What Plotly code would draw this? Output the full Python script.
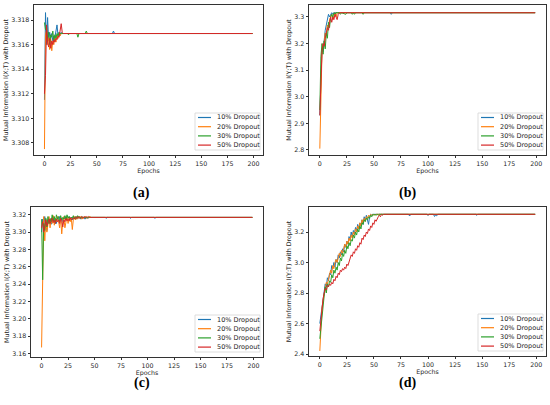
import plotly.graph_objects as go

series_names = ['10% Dropout', '20% Dropout', '30% Dropout', '50% Dropout']
series_colors = ['#1f77b4', '#ff7f0e', '#2ca02c', '#d62728']

# ---- panel (a): I(X;T) ----
a_x_10 = list(range(0, 21)) + [65, 66, 67, 199]
a_y_10 = [3.3115, 3.3186, 3.3160, 3.3182, 3.3163, 3.3170, 3.3165, 3.3169, 3.3163, 3.3167,
          3.3166, 3.3170, 3.3176, 3.3167, 3.3170, 3.3168, 3.3170, 3.3169, 3.3169, 3.3169,
          3.3169, 3.3169, 3.3171, 3.3169, 3.3169]
a_x_20 = list(range(0, 19)) + [199]
a_y_20 = [3.3075, 3.3168, 3.3172, 3.3160, 3.3166, 3.3156, 3.3165, 3.3155, 3.3163, 3.3160,
          3.3166, 3.3162, 3.3168, 3.3165, 3.3169, 3.3167, 3.3169, 3.3169, 3.3169, 3.3169]
a_x_30 = list(range(0, 17)) + [22, 23, 24, 31, 32, 33, 39, 40, 41, 199]
a_y_30 = [3.3178, 3.3172, 3.3175, 3.3165, 3.3170, 3.3160, 3.3168, 3.3166, 3.3171, 3.3163,
          3.3168, 3.3165, 3.3169, 3.3167, 3.3170, 3.3169, 3.3169, 3.3169, 3.3168, 3.3169,
          3.3169, 3.3166, 3.3169, 3.3169, 3.3171, 3.3169, 3.3169]
a_x_50 = list(range(0, 19)) + [199]
a_y_50 = [3.3120, 3.3135, 3.3176, 3.3162, 3.3158, 3.3165, 3.3157, 3.3163, 3.3160, 3.3164,
          3.3162, 3.3165, 3.3164, 3.3167, 3.3166, 3.3172, 3.3177, 3.3170, 3.3169, 3.3169]

# ---- panel (b): I(Y;T) ----
b_x_10 = list(range(0, 14)) + [65, 66, 67, 199]
b_y_10 = [2.93, 3.10, 3.18, 3.17, 3.22, 3.25, 3.27, 3.30, 3.31, 3.30, 3.31, 3.316, 3.31, 3.316,
          3.316, 3.310, 3.316, 3.316]
b_x_20 = list(range(0, 18)) + [199]
b_y_20 = [2.805, 3.05, 3.17, 3.19, 3.20, 3.24, 3.23, 3.27, 3.26, 3.29, 3.30, 3.31, 3.29, 3.31,
          3.316, 3.30, 3.316, 3.316, 3.316]
b_x_30 = list(range(0, 21)) + [24, 25, 29, 30, 31, 32, 33, 39, 40, 41, 199]
b_y_30 = [2.95, 3.15, 3.20, 3.16, 3.21, 3.18, 3.24, 3.22, 3.28, 3.26, 3.30, 3.31, 3.30, 3.316,
          3.31, 3.316, 3.316, 3.316, 3.316, 3.31, 3.316, 3.31, 3.316, 3.316, 3.31, 3.316, 3.31,
          3.316, 3.316, 3.31, 3.316, 3.316]
b_x_50 = list(range(0, 19)) + [199]
b_y_50 = [2.93, 3.08, 3.17, 3.20, 3.19, 3.22, 3.25, 3.26, 3.25, 3.28, 3.30, 3.28, 3.30, 3.29,
          3.31, 3.30, 3.29, 3.31, 3.316, 3.316]

# ---- panel (c): I(X;T) ----
c_x_10 = list(range(0, 46)) + [60, 61, 62, 83, 84, 85, 106, 107, 108, 199]
c_y_10 = [3.300, 3.315, 3.305, 3.318, 3.308, 3.302, 3.312, 3.310, 3.316, 3.309,
          3.314, 3.318, 3.312, 3.316, 3.310, 3.317, 3.313, 3.318, 3.314, 3.316,
          3.312, 3.317, 3.315, 3.318, 3.314, 3.316, 3.318, 3.315, 3.317, 3.314,
          3.318, 3.316, 3.317, 3.315, 3.318, 3.316, 3.317, 3.315, 3.317, 3.316,
          3.317, 3.315, 3.317, 3.316, 3.317, 3.317,
          3.317, 3.316, 3.317, 3.317, 3.316, 3.317, 3.317, 3.316, 3.317, 3.317]
c_x_20 = list(range(0, 48)) + [199]
c_y_20 = [3.167, 3.245, 3.318, 3.290, 3.315, 3.300, 3.312, 3.318, 3.305, 3.316,
          3.310, 3.319, 3.308, 3.316, 3.312, 3.318, 3.313, 3.305, 3.316, 3.298,
          3.312, 3.318, 3.305, 3.315, 3.318, 3.310, 3.317, 3.312, 3.316, 3.303,
          3.315, 3.318, 3.314, 3.317, 3.315, 3.318, 3.316, 3.318, 3.315, 3.317,
          3.316, 3.318, 3.316, 3.317, 3.316, 3.318, 3.317, 3.317, 3.317]
c_x_30 = list(range(0, 40)) + [199]
c_y_30 = [3.315, 3.245, 3.310, 3.302, 3.316, 3.306, 3.318, 3.310, 3.315, 3.312,
          3.320, 3.313, 3.318, 3.310, 3.320, 3.315, 3.318, 3.312, 3.319, 3.314,
          3.317, 3.315, 3.319, 3.314, 3.320, 3.316, 3.318, 3.315, 3.317, 3.316,
          3.319, 3.315, 3.318, 3.316, 3.319, 3.317, 3.318, 3.316, 3.318, 3.317, 3.317]
c_x_50 = list(range(0, 47)) + [199]
c_y_50 = [3.305, 3.312, 3.300, 3.310, 3.314, 3.307, 3.312, 3.315, 3.310, 3.313,
          3.316, 3.311, 3.314, 3.310, 3.315, 3.312, 3.314, 3.310, 3.316, 3.312,
          3.306, 3.314, 3.312, 3.316, 3.313, 3.315, 3.313, 3.317, 3.314, 3.316,
          3.315, 3.317, 3.315, 3.318, 3.316, 3.318, 3.316, 3.317, 3.318, 3.316,
          3.318, 3.317, 3.318, 3.317, 3.318, 3.317, 3.317, 3.317]

# ---- panel (d): I(Y;T) ----
d_x_10 = list(range(0, 50)) + [82, 83, 84, 99, 100, 101, 105, 106, 107, 108, 109, 144, 145, 146, 199]
d_y_10 = [2.60, 2.66, 2.72, 2.78, 2.80, 2.86, 2.84, 2.90, 2.88, 2.93,
          2.92, 2.98, 2.96, 3.00, 2.97, 3.02, 3.00, 3.05, 3.03, 3.07,
          3.05, 3.09, 3.07, 3.12, 3.10, 3.14, 3.12, 3.17, 3.15, 3.20,
          3.17, 3.21, 3.19, 3.23, 3.21, 3.25, 3.22, 3.26, 3.24, 3.28,
          3.25, 3.30, 3.27, 3.31, 3.28, 3.25, 3.30, 3.316, 3.31, 3.316,
          3.316, 3.305, 3.316, 3.316, 3.308, 3.316, 3.316, 3.302, 3.312, 3.306, 3.316,
          3.316, 3.310, 3.316, 3.316]
d_x_20 = list(range(0, 53)) + [99, 100, 101, 199]
d_y_20 = [2.42, 2.62, 2.70, 2.75, 2.80, 2.84, 2.87, 2.86, 2.90, 2.92,
          2.95, 2.93, 2.98, 2.96, 3.00, 3.02, 3.00, 3.04, 3.06, 3.04,
          3.08, 3.06, 3.10, 3.12, 3.10, 3.14, 3.12, 3.16, 3.14, 3.18,
          3.16, 3.20, 3.18, 3.22, 3.20, 3.24, 3.22, 3.26, 3.24, 3.28,
          3.26, 3.29, 3.27, 3.30, 3.29, 3.31, 3.30, 3.316, 3.31, 3.316,
          3.316, 3.31, 3.316, 3.316, 3.312, 3.316, 3.316]
d_x_30 = list(range(0, 56)) + [199]
d_y_30 = [2.50, 2.58, 2.66, 2.72, 2.78, 2.84, 2.80, 2.86, 2.84, 2.88,
          2.87, 2.92, 2.90, 2.95, 2.93, 2.97, 2.95, 3.00, 2.98, 3.03,
          3.01, 3.06, 3.04, 3.08, 3.06, 3.11, 3.09, 3.13, 3.11, 3.15,
          3.14, 3.18, 3.16, 3.20, 3.18, 3.22, 3.20, 3.24, 3.22, 3.26,
          3.25, 3.28, 3.27, 3.29, 3.28, 3.30, 3.29, 3.31, 3.30, 3.316,
          3.31, 3.316, 3.31, 3.316, 3.31, 3.316, 3.316]
d_x_50 = list(range(0, 61)) + [199]
d_y_50 = [2.55, 2.63, 2.70, 2.76, 2.80, 2.83, 2.82, 2.85, 2.84, 2.86,
          2.85, 2.87, 2.86, 2.89, 2.88, 2.91, 2.90, 2.93, 2.92, 2.95,
          2.94, 2.96, 2.95, 2.97, 2.96, 2.99, 2.98, 3.01, 3.02, 3.05,
          3.04, 3.07, 3.06, 3.09, 3.08, 3.11, 3.10, 3.13, 3.12, 3.16,
          3.15, 3.18, 3.17, 3.20, 3.19, 3.22, 3.21, 3.24, 3.23, 3.26,
          3.25, 3.28, 3.27, 3.29, 3.30, 3.31, 3.30, 3.316, 3.31, 3.316, 3.316, 3.316]

panels = [
    ([a_x_10, a_x_20, a_x_30, a_x_50], [a_y_10, a_y_20, a_y_30, a_y_50]),
    ([b_x_10, b_x_20, b_x_30, b_x_50], [b_y_10, b_y_20, b_y_30, b_y_50]),
    ([c_x_10, c_x_20, c_x_30, c_x_50], [c_y_10, c_y_20, c_y_30, c_y_50]),
    ([d_x_10, d_x_20, d_x_30, d_x_50], [d_y_10, d_y_20, d_y_30, d_y_50]),
]
y_titles = ['Mutual Information I(X;T) with Dropout', 'Mutual Information I(Y;T) with Dropout',
            'Mutual Information I(X;T) with Dropout', 'Mutual Information I(Y;T) with Dropout']
y_ranges = [[3.30702, 3.31922], [2.781, 3.345], [3.156, 3.329], [2.387, 3.364]]
y_ticks = [[3.308, 3.310, 3.312, 3.314, 3.316, 3.318],
           [2.8, 2.9, 3.0, 3.1, 3.2, 3.3],
           [3.16, 3.18, 3.20, 3.22, 3.24, 3.26, 3.28, 3.30, 3.32],
           [2.4, 2.6, 2.8, 3.0, 3.2]]
y_fmt = ['.3f', '.1f', '.2f', '.1f']
x_ticks = [0, 25, 50, 75, 100, 125, 150, 175, 200]
captions = ['(a)', '(b)', '(c)', '(d)']

W, H = 550, 405
# axes boxes in pixels: left, right, top, bottom
boxes = [(34, 263, 5, 155), (309, 546, 5, 155), (31, 263, 207, 357), (309, 546, 207, 356)]
caption_pos = [(131, 193), (418, 193), (132, 393), (418, 393)]

fig = go.Figure()
txt_color = '#262626'
tick_font = dict(family='DejaVu Sans', size=6.3, color=txt_color)


def px_x(v):
    return v / W


def px_y(v):
    return 1 - v / H


for p, (xs, ys) in enumerate(panels):
    n = p + 1
    suffix = '' if n == 1 else str(n)
    for i in range(4):
        fig.add_trace(go.Scatter(
            x=xs[i], y=ys[i], mode='lines', name=series_names[i], showlegend=False,
            line=dict(color=series_colors[i], width=1),
            xaxis='x' + suffix, yaxis='y' + suffix,
        ))
    l, r, t, b = boxes[p]
    axis_common = dict(showline=True, linecolor='#333', linewidth=0.8, mirror=True,
                       ticks='outside', ticklen=2.5, tickwidth=0.7, tickcolor='#333',
                       showgrid=False, zeroline=False, tickfont=tick_font, automargin=False)
    fig.update_layout({
        'xaxis' + suffix: dict(domain=[px_x(l), px_x(r)], anchor='y' + suffix,
                               range=[-10, 209], tickvals=x_ticks,
                               title=dict(text='Epochs', font=tick_font, standoff=1),
                               **axis_common),
        'yaxis' + suffix: dict(domain=[px_y(b), px_y(t)], anchor='x' + suffix,
                               range=y_ranges[p], tickvals=y_ticks[p], tickformat=y_fmt[p],
                               title=dict(text=y_titles[p], font=tick_font, standoff=2),
                               **axis_common),
    })
    # legend box drawn in the lower right corner of each panel
    lg_r, lg_b = r - 3, b - 5
    lg_l, lg_t = lg_r - 65, lg_b - 37
    fig.add_shape(type='rect', xref='paper', yref='paper',
                  x0=px_x(lg_l), x1=px_x(lg_r), y0=px_y(lg_b), y1=px_y(lg_t),
                  line=dict(color='#d4d4d4', width=0.8), fillcolor='rgba(255,255,255,0.85)')
    for i in range(4):
        ey = lg_t + 4.5 + 9.2 * i
        fig.add_shape(type='line', xref='paper', yref='paper',
                      x0=px_x(lg_l + 3), x1=px_x(lg_l + 16), y0=px_y(ey), y1=px_y(ey),
                      line=dict(color=series_colors[i], width=1.2))
        fig.add_annotation(x=px_x(lg_l + 20), y=px_y(ey), xref='paper', yref='paper',
                           text=series_names[i], showarrow=False, xanchor='left',
                           yanchor='middle', font=dict(family='DejaVu Sans', size=6.5,
                                                       color=txt_color))
    fig.add_annotation(x=px_x(caption_pos[p][0]), y=px_y(caption_pos[p][1]), xref='paper',
                       yref='paper', text='<b>' + captions[p] + '</b>', showarrow=False,
                       font=dict(family='Liberation Serif', size=14, color='black'))

fig.update_layout(width=W, height=H, margin=dict(l=0, r=0, t=0, b=0),
                  paper_bgcolor='white', plot_bgcolor='white')

# drop the page's default body margin so the figure sits at the window corner
fig.write_html('out.html', config={'displayModeBar': False},
               post_script="document.body.style.margin='0';")
